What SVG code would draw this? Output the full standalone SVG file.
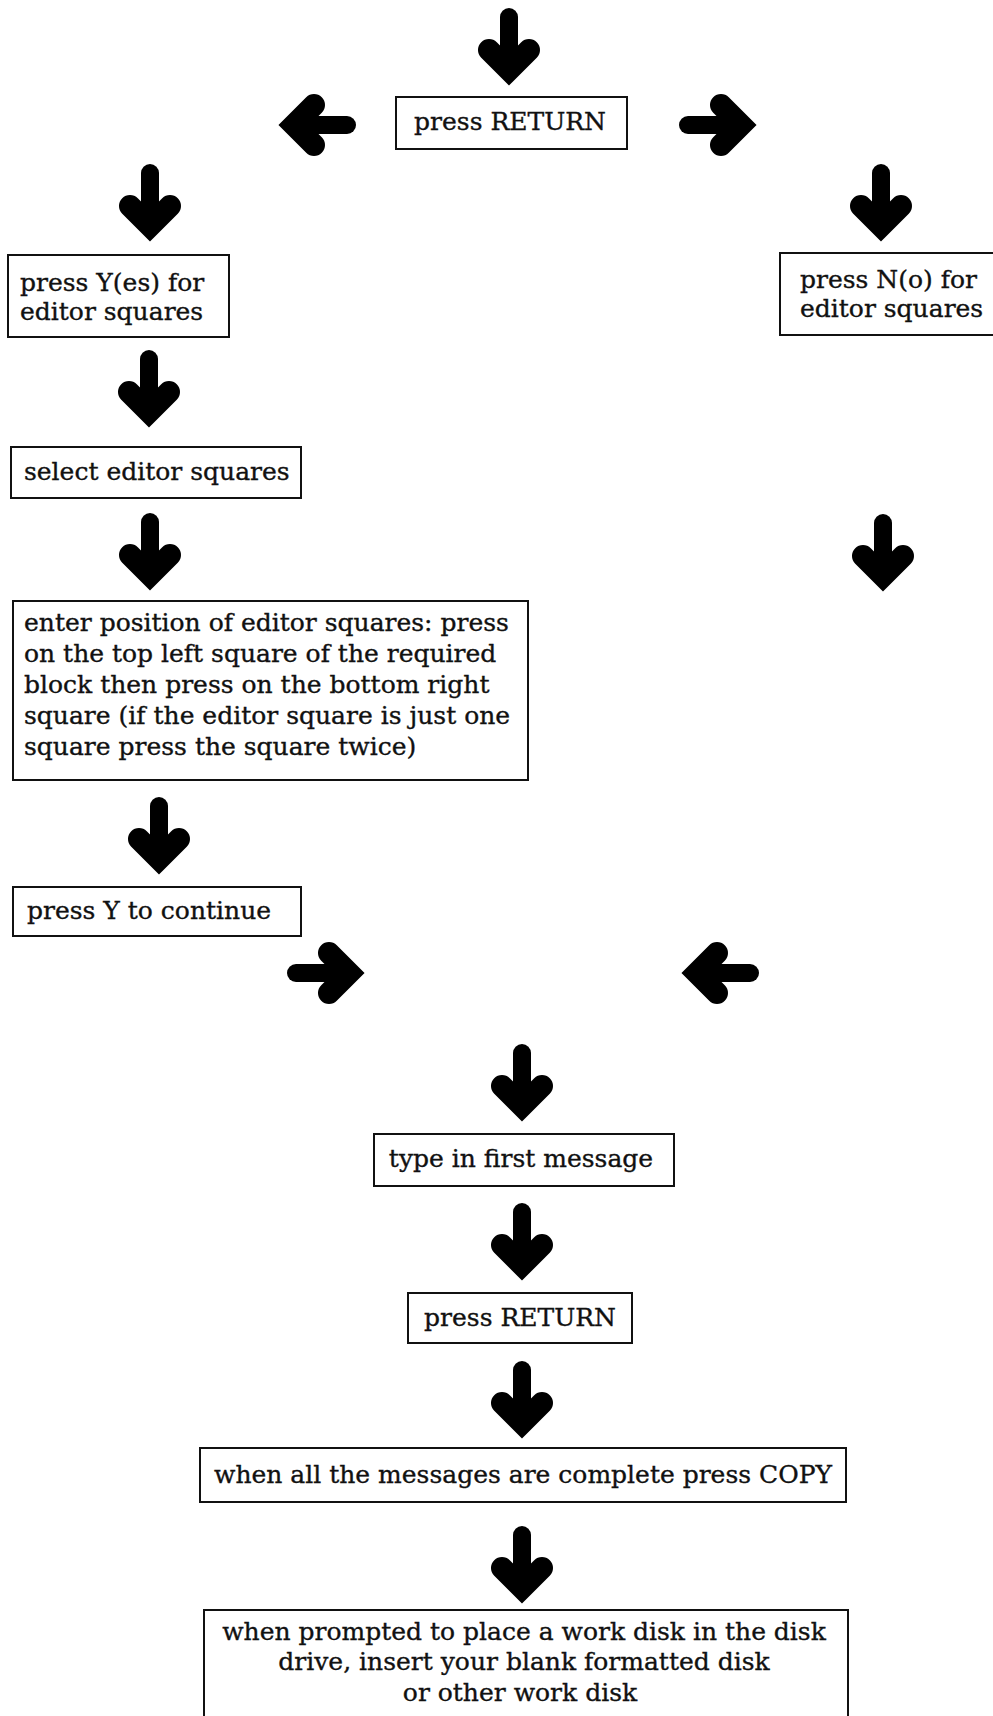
<svg xmlns="http://www.w3.org/2000/svg" xmlns:xlink="http://www.w3.org/1999/xlink" width="993" height="1716" viewBox="0 0 993 1716">
  <style>
    .box { fill: #fff; stroke: #111; stroke-width: 2; }
    .lbl { font-family: "DejaVu Serif", "Liberation Serif", serif; font-size: 25px; fill: #111; stroke: #111; stroke-width: 0.35; }
    .mid { text-anchor: middle; }
    .shaft { stroke: #000; stroke-width: 18; stroke-linecap: round; fill: none; }
    .head { stroke: #000; stroke-width: 22; stroke-linecap: round; stroke-linejoin: miter; fill: none; }
  </style>
  <defs>
    <!-- block arrow pointing down; origin = top centre of the shaft, tip at y=78 -->
    <g id="arrow-down">
      <path class="shaft" d="M0,9 V58"/>
      <path class="head" d="M-20,42 L0,62 L20,42"/>
    </g>
  </defs>
  <rect width="993" height="1716" fill="#fff"/>

  <!-- connectors -->
  <g id="connectors">
    <use xlink:href="#arrow-down" href="#arrow-down" transform="translate(509,8)"/>
    <use xlink:href="#arrow-down" href="#arrow-down" transform="translate(356,125) rotate(90)"/>
    <use xlink:href="#arrow-down" href="#arrow-down" transform="translate(679,125) rotate(-90)"/>
    <use xlink:href="#arrow-down" href="#arrow-down" transform="translate(150,164)"/>
    <use xlink:href="#arrow-down" href="#arrow-down" transform="translate(881,164)"/>
    <use xlink:href="#arrow-down" href="#arrow-down" transform="translate(149,350)"/>
    <use xlink:href="#arrow-down" href="#arrow-down" transform="translate(150,513)"/>
    <use xlink:href="#arrow-down" href="#arrow-down" transform="translate(883,514)"/>
    <use xlink:href="#arrow-down" href="#arrow-down" transform="translate(159,797)"/>
    <use xlink:href="#arrow-down" href="#arrow-down" transform="translate(287,973) rotate(-90)"/>
    <use xlink:href="#arrow-down" href="#arrow-down" transform="translate(759,973) rotate(90)"/>
    <use xlink:href="#arrow-down" href="#arrow-down" transform="translate(522,1044)"/>
    <use xlink:href="#arrow-down" href="#arrow-down" transform="translate(522,1203)"/>
    <use xlink:href="#arrow-down" href="#arrow-down" transform="translate(522,1361)"/>
    <use xlink:href="#arrow-down" href="#arrow-down" transform="translate(522,1526)"/>
  </g>

  <!-- steps -->
  <g id="n-return-1">
    <rect class="box" x="396" y="97" width="231" height="52"/>
    <text class="lbl mid" x="510" y="130">press RETURN</text>
  </g>
  <g id="n-yes">
    <rect class="box" x="8" y="255" width="221" height="82"/>
    <text class="lbl" x="20" y="291">press Y(es) for</text>
    <text class="lbl" x="20" y="320">editor squares</text>
  </g>
  <g id="n-no">
    <rect class="box" x="780" y="253" width="230" height="82"/>
    <text class="lbl" x="800" y="288">press N(o) for</text>
    <text class="lbl" x="800" y="317">editor squares</text>
  </g>
  <g id="n-select">
    <rect class="box" x="11" y="447" width="290" height="51"/>
    <text class="lbl" x="24" y="480">select editor squares</text>
  </g>
  <g id="n-position">
    <rect class="box" x="13" y="601" width="515" height="179"/>
    <text class="lbl" x="24" y="631">enter position of editor squares: press</text>
    <text class="lbl" x="24" y="662">on the top left square of the required</text>
    <text class="lbl" x="24" y="693">block then press on the bottom right</text>
    <text class="lbl" x="24" y="724">square (if the editor square is just one</text>
    <text class="lbl" x="24" y="755">square press the square twice)</text>
  </g>
  <g id="n-continue">
    <rect class="box" x="13" y="887" width="288" height="49"/>
    <text class="lbl" x="27" y="919">press Y to continue</text>
  </g>
  <g id="n-message">
    <rect class="box" x="374" y="1134" width="300" height="52"/>
    <text class="lbl mid" x="521" y="1167">type in first message</text>
  </g>
  <g id="n-return-2">
    <rect class="box" x="408" y="1293" width="224" height="50"/>
    <text class="lbl mid" x="520" y="1326">press RETURN</text>
  </g>
  <g id="n-copy">
    <rect class="box" x="200" y="1448" width="646" height="54"/>
    <text class="lbl mid" x="523" y="1483">when all the messages are complete press COPY</text>
  </g>
  <g id="n-disk">
    <rect class="box" x="204" y="1610" width="644" height="130"/>
    <text class="lbl mid" x="524" y="1640">when prompted to place a work disk in the disk</text>
    <text class="lbl mid" x="524" y="1670">drive, insert your blank formatted disk</text>
    <text class="lbl mid" x="520" y="1701">or other work disk</text>
  </g>
</svg>
